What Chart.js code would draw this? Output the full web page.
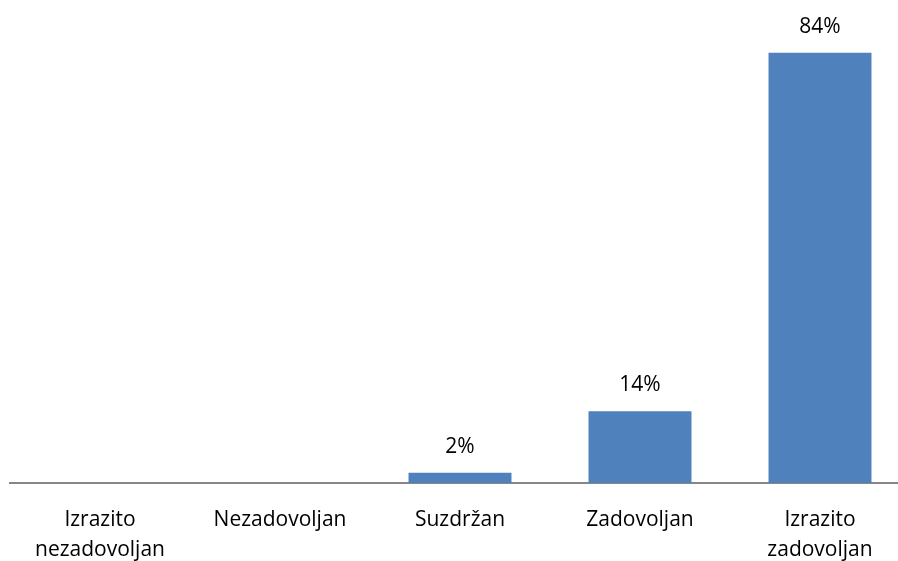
<!DOCTYPE html>
<html>
<head>
<meta charset="utf-8">
<script src="https://cdn.jsdelivr.net/npm/chart.js@4"></script>
<style>
  html, body { margin: 0; padding: 0; background: #fff; overflow: hidden; }
  #wrap { position: absolute; left: 0; top: 0; width: 920px; height: 579px; }
</style>
</head>
<body>
<div id="wrap"><canvas id="chart"></canvas></div>
<script>
// Categories (multi-line labels) and answer shares in percent
const categories = [
  ["Izrazito", "nezadovoljan"],
  "Nezadovoljan",
  "Suzdržan",
  "Zadovoljan",
  ["Izrazito", "zadovoljan"],
];
const shares = [0, 0, 2, 14, 84];
const shareLabels = ["", "", "2%", "14%", "84%"];

// Draw the value text above each bar
const valueLabels = {
  id: "valueLabels",
  afterDatasetsDraw(chart) {
    const ctx = chart.ctx;
    const meta = chart.getDatasetMeta(0);
    ctx.save();
    ctx.font = "21px 'Open Sans'";
    ctx.fillStyle = "#000";
    ctx.textAlign = "center";
    ctx.textBaseline = "middle";
    meta.data.forEach((bar, i) => {
      if (!shareLabels[i]) return;
      ctx.fillText(shareLabels[i], bar.x, bar.y - 26);
    });
    ctx.restore();
  },
};

new Chart(document.getElementById("chart"), {
  type: "bar",
  data: {
    labels: categories,
    datasets: [
      {
        data: shares,
        backgroundColor: "#4f81bd",
        barPercentage: 0.572,
        categoryPercentage: 1,
      },
    ],
  },
  options: {
    responsive: true,
    maintainAspectRatio: false,
    animation: false,
    layout: { padding: { top: 22, left: 10, right: 10, bottom: 0 } },
    plugins: {
      legend: { display: false },
      tooltip: { enabled: false },
    },
    scales: {
      x: {
        grid: { display: false },
        border: { color: "#868686", width: 2 },
        ticks: {
          color: "#000",
          font: { family: "'Open Sans'", size: 21, lineHeight: 1.43 },
          padding: 14,
          maxRotation: 0,
          autoSkip: false,
        },
      },
      y: {
        display: false,
        min: 0,
        max: 90,
      },
    },
  },
  plugins: [valueLabels],
});
</script>
</body>
</html>
